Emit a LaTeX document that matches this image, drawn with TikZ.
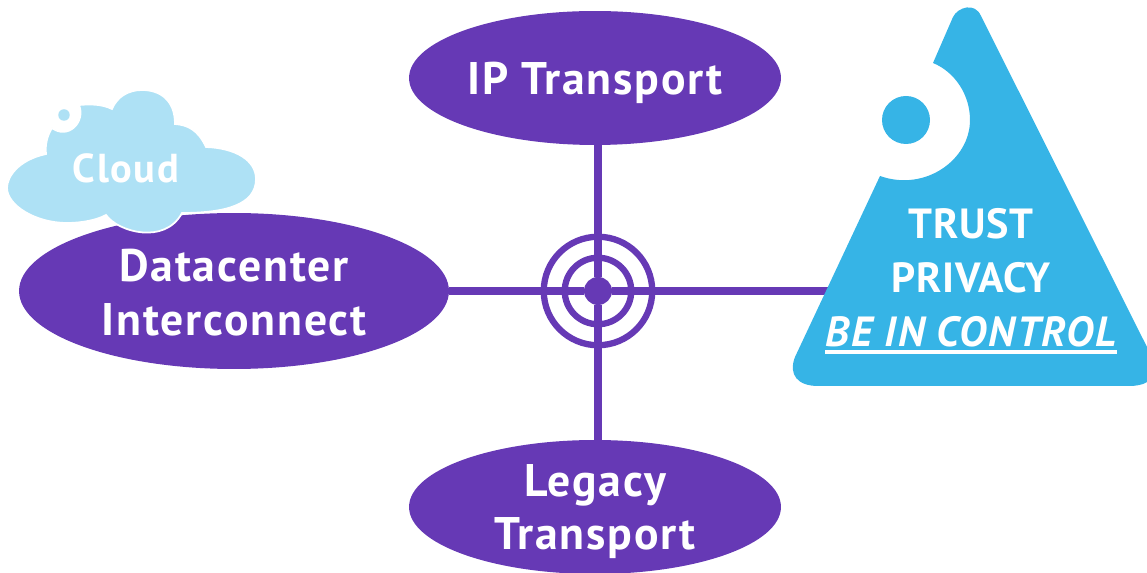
\documentclass[tikz,border=0pt]{standalone}
\usepackage{fontspec}
\usepackage{tikz}
\usetikzlibrary{shapes.geometric}
\setmainfont{PT Sans}
\newfontfamily\netfont[LetterSpace=4]{PT Sans}
\newfontfamily\trustfont[LetterSpace=2]{PT Sans}
\definecolor{netpurple}{HTML}{6639B5}
\definecolor{trustblue}{HTML}{36B4E6}
\definecolor{cloudblue}{HTML}{AEE1F5}
\newcommand{\thickline}[1]{\vtop{\hbox{#1}\kern 2pt\hrule height 2pt}}
\tikzset{
        net/.style={shape=ellipse,fill=netpurple,inner sep=0pt,align=center,text=white,font=\fontsize{26}{30.6}\selectfont\netfont\bfseries},
        ring/.style={shape=circle,draw=netpurple,line width=3.6pt,inner sep=0pt},
        spoke/.style={draw=netpurple,line width=4pt}
}

\begin{document}
\begin{tikzpicture}[x=0.02cm,y=-0.02cm]
        \useasboundingbox (0,0) rectangle (1147,573);

        \node[ring,minimum size=2.17cm] (outer) at (598,291) {};
        \node[ring,minimum size=1.33cm] (inner) at (598,291) {};
        \node[shape=circle,fill=netpurple,inner sep=0pt,minimum size=0.56cm] (hub) at (598,291) {};
        \node[net,text height=24pt,minimum width=7.44cm,minimum height=2.68cm] (ip) at (595,78) {IP Transport};
        \node[net,text height=51pt,minimum width=8.6cm,minimum height=3.12cm] (dci) at (234,291) {Datacenter\\Interconnect};
        \node[net,text depth=0pt,minimum width=7.44cm,minimum height=2.68cm] (legacy) at (595,507) {Legacy\\Transport};
        \coordinate (trustend) at (835,291);

        \path[spoke] (hub) edge (hub |- ip.south);
        \path[spoke] (hub) edge (dci);
        \path[spoke] (hub) edge (hub |- legacy.north);
        \path[spoke] (hub) edge (trustend);

        % cloud with the bite at its upper left
        \path[fill=cloudblue,draw=white,line width=1pt] (46,154) .. controls (18,160) and (7,177) .. (7,188) .. controls (7,205) and (35,223) .. (67,223) .. controls (82,223) and (97,220) .. (106,215) .. controls (118,232) and (165,245) .. (182,213) .. controls (225,213) and (256,205) .. (256,179) .. controls (256,160) and (235,148) .. (206,147) .. controls (198,130) and (188,125) .. (175,124) .. controls (175,100) and (160,90) .. (142,90) .. controls (128,90) and (117,97) .. (112,109) .. controls (102,104) and (90,104) .. (79,105) .. controls (86,122) and (68,140) .. (52,128) .. controls (47,136) and (45,145) .. (46,154) -- cycle;
        \node[shape=circle,fill=cloudblue,inner sep=0pt,minimum size=0.23cm] (clouddot) at (64,115) {};
        \node[text=white,font=\fontsize{23}{26}\selectfont\netfont\bfseries] (cloud) at (126,168) {Cloud};

        % triangle, runs off the right edge
        \path[fill=trustblue] (953,17) .. controls (958,7) and (975,2) .. (981,16) -- (1147,347) -- (1147,382) .. controls (1143,385) and (1135,386) .. (1130,386) -- (818,386) .. controls (798,386) and (788,375) .. (795,357) -- (880,176) .. controls (925,192) and (970,160) .. (970,120) .. controls (970,95) and (955,72) .. (933,63) -- cycle;
        \node[shape=circle,fill=trustblue,inner sep=0pt,minimum size=0.96cm] (trustdot) at (906,120) {};
        \node[align=center,text=white,font=\fontsize{24}{30.6}\selectfont\trustfont\bfseries] (trust) at (971,281) {TRUST\\PRIVACY\\\thickline{\netfont\bfseries\itshape BE IN CONTROL}};
\end{tikzpicture}
\end{document}
